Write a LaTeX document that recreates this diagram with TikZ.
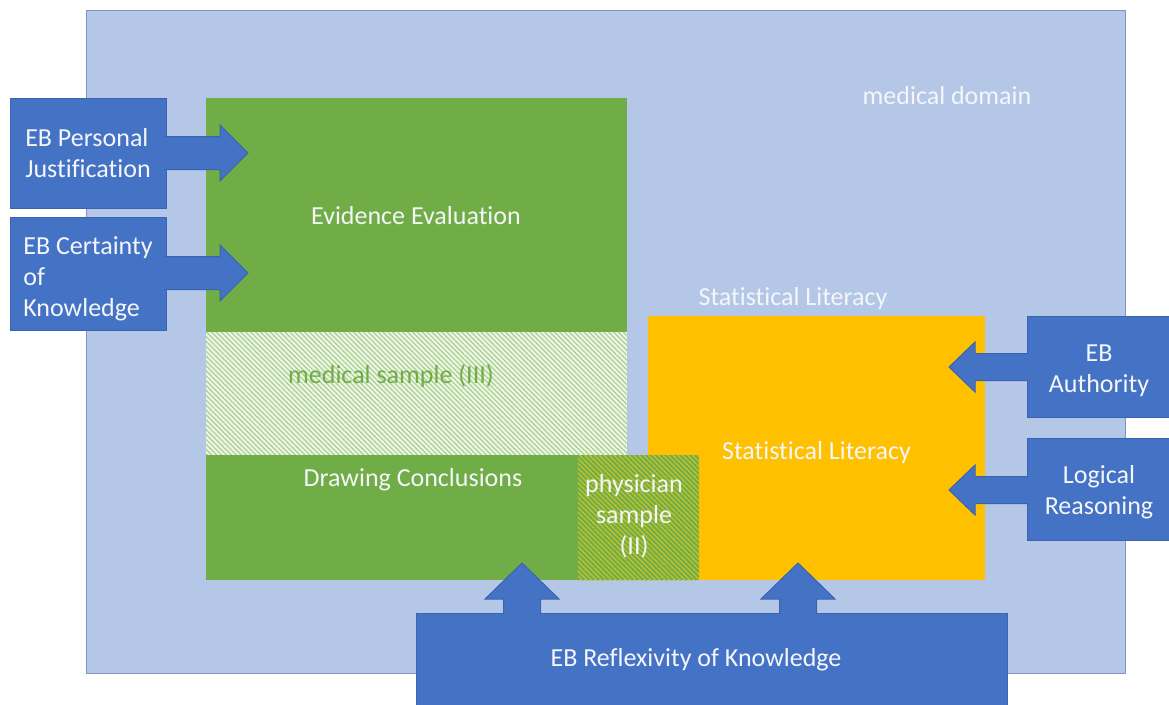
\documentclass[tikz,border=0pt]{standalone}
\usepackage{fontspec}
\setmainfont{Carlito}[Ligatures=NoCommon]
\usetikzlibrary{calc,patterns.meta}
\definecolor{bgblue}{HTML}{B4C7E7}
\definecolor{bgline}{HTML}{7F96C4}
\definecolor{mgreen}{HTML}{70AD47}
\definecolor{morange}{HTML}{FFC000}
\definecolor{mblue}{HTML}{4472C4}
\definecolor{mbline}{HTML}{3A64B0}
\definecolor{hatchlight}{HTML}{A9D18E}
\definecolor{hatchbase}{HTML}{EEF5E8}
\definecolor{hatchyellow}{HTML}{BDC232}
\definecolor{txtwhite}{HTML}{F4F6FA}
\newcommand\diafont{\fontsize{19.5}{23.25}\selectfont}
\begin{document}
\begin{tikzpicture}[x=0.75pt,y=-0.75pt,
  sz/.style 2 args={minimum width=#1*0.75pt, minimum height=#2*0.75pt},
  area/.style={draw=none, inner sep=0pt, outer sep=0pt, font=\diafont, text=txtwhite},
  ebox/.style={fill=mblue, draw=mbline, line width=0.75pt, inner sep=0pt, outer sep=0pt, text=txtwhite, font=\diafont},
  lbl/.style={text=txtwhite, font=\diafont, inner sep=0pt},
  barrow/.style={fill=mblue, draw=mbline, line width=0.75pt, line join=miter}
]
\useasboundingbox (0,0) rectangle (1169,704);
\clip (0,0) rectangle (1169,704);
\fill[white] (0,0) rectangle (1169,704);

% domain
\node[area, fill=bgblue, draw=bgline, line width=0.75pt, sz={1039}{663}] (dom) at (605.5,341.5) {};
\node[lbl] (domt) at (947,96) {medical domain};

% green regions
\node[area, fill=mgreen, sz={421}{234}] (ee) at (416.5,215) {};
\node[lbl] (eet) at (416,216) {Evidence Evaluation};
\node[area, preaction={fill=hatchbase}, pattern={Lines[angle=-45,distance=2.6pt,line width=0.9pt]}, pattern color=hatchlight, sz={421}{123}] (ms) at (416.5,393.5) {};
\node[lbl, text=mgreen] (mst) at (391,376) {medical sample (III)};
\node[area, fill=mgreen, sz={372}{125}] (dc) at (392,517.5) {};
\node[lbl] (dct) at (413,480) {Drawing Conclusions};

% statistical literacy
\node[lbl] (slt) at (793,299) {Statistical Literacy};
\node[area, fill=morange, sz={337}{264}] (sl) at (816.5,448) {};
\node[lbl] (slin) at (816.5,452.5) {Statistical Literacy};

% physician sample
\node[area, preaction={fill=mgreen}, pattern={Lines[angle=-45,distance=2.6pt,line width=1pt]}, pattern color=hatchyellow, sz={121}{125}] (ps) at (638.5,517.5) {};
\node[lbl, align=center] (pst) at (634,516.5) {physician\\sample\\(II)};

% left boxes and arrows
\coordinate (t1) at (248,153);
\coordinate (t2) at (248,273);
\node[ebox, sz={156}{110}] (pj) at (88,153) {};
\node[lbl, align=left] (pjt) at (88,153) {EB Personal\\Justification};
\node[ebox, sz={156}{113}] (ck) at (88,273.5) {};
\node[lbl, align=left] (ckt) at (88,278.5) {EB Certainty\\of\\Knowledge};
\draw[barrow] ($(pj.east|-t1)+(-1,-16.5)$) -- ($(t1)+(-28,-16.5)$) -- ($(t1)+(-28,-28)$) -- (t1)
  -- ($(t1)+(-28,28)$) -- ($(t1)+(-28,16.5)$) -- ($(pj.east|-t1)+(-1,16.5)$);
\draw[barrow] ($(ck.east|-t2)+(-1,-16.5)$) -- ($(t2)+(-28,-16.5)$) -- ($(t2)+(-28,-28)$) -- (t2)
  -- ($(t2)+(-28,28)$) -- ($(t2)+(-28,16.5)$) -- ($(ck.east|-t2)+(-1,16.5)$);

% right boxes and arrows
\coordinate (t3) at (949,367);
\coordinate (t4) at (949,490);
\node[ebox, sz={145}{101}] (au) at (1099.5,366.5) {};
\node[lbl, align=center] (aut) at (1099,370.5) {EB\\Authority};
\node[ebox, sz={145}{102}] (lr) at (1099.5,489) {};
\node[lbl, align=center] (lrt) at (1099,492) {Logical\\Reasoning};
\draw[barrow] ($(au.west|-t3)+(1,-13.5)$) -- ($(t3)+(26,-13.5)$) -- ($(t3)+(26,-25)$) -- (t3)
  -- ($(t3)+(26,25)$) -- ($(t3)+(26,13.5)$) -- ($(au.west|-t3)+(1,13.5)$);
\draw[barrow] ($(lr.west|-t4)+(1,-13.5)$) -- ($(t4)+(26,-13.5)$) -- ($(t4)+(26,-25)$) -- (t4)
  -- ($(t4)+(26,25)$) -- ($(t4)+(26,13.5)$) -- ($(lr.west|-t4)+(1,13.5)$);

% bottom box and arrows
\coordinate (t5) at (522,563);
\coordinate (t6) at (798,563);
\node[ebox, sz={591}{97}] (ref) at (711.5,661.5) {};
\node[lbl] (reft) at (696,660) {EB Reflexivity of Knowledge};
\draw[barrow] ($(t5|-ref.north)+(-18.5,1)$) -- ($(t5)+(-18.5,36)$) -- ($(t5)+(-37,36)$) -- (t5)
  -- ($(t5)+(37,36)$) -- ($(t5)+(18.5,36)$) -- ($(t5|-ref.north)+(18.5,1)$);
\draw[barrow] ($(t6|-ref.north)+(-18.5,1)$) -- ($(t6)+(-18.5,36)$) -- ($(t6)+(-37,36)$) -- (t6)
  -- ($(t6)+(37,36)$) -- ($(t6)+(18.5,36)$) -- ($(t6|-ref.north)+(18.5,1)$);
\end{tikzpicture}
\end{document}
